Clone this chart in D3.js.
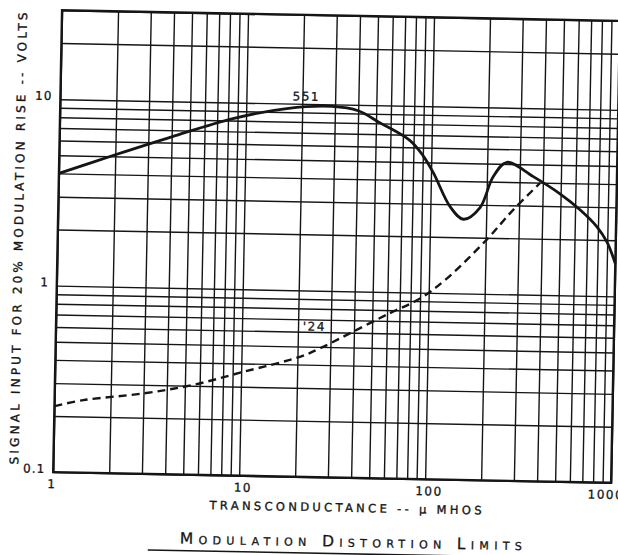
<!DOCTYPE html>
<html><head><meta charset="utf-8">
<script src="https://cdn.jsdelivr.net/npm/d3@7"></script>
<style>html,body{margin:0;padding:0;background:#fff;overflow:hidden}</style>
</head><body>
<svg id="c" width="618" height="555"></svg>
<script>
// ---- data ----
const xDomain = [1, 1000];
const yDomain = [0.1, 30];
const xTickValues = [1, 10, 100, 1000];
const xTickLabels = ["1", "10", "100", "1000"];
const yTickValues = [0.1, 1, 10];
const yTickLabels = ["0.1", "1", "10"];
const tube551X = [1, 2, 4, 8.5, 16.5, 29, 40, 52, 76, 90, 103, 128, 151, 185, 216, 255, 355, 496, 640, 790, 895, 1000];
const tube551Y = [4.0, 5.1, 6.45, 8.2, 9.4, 9.75, 9.3, 8.1, 6.55, 5.45, 4.4, 2.9, 2.5, 2.9, 4.25, 5.1, 4.3, 3.5, 2.88, 2.35, 1.96, 1.5];
const tube24X = [1, 1.43, 3, 5.5, 10.3, 20.6, 26.4, 38, 62, 90, 125, 202, 279, 386];
const tube24Y = [0.226, 0.245, 0.27, 0.303, 0.361, 0.44, 0.491, 0.595, 0.77, 0.93, 1.2, 1.95, 2.84, 3.97];
const seriesLabels = ["551", "'24"];
const xTitle = "TRANSCONDUCTANCE -- \u03BC MHOS";
const yTitle = "SIGNAL INPUT FOR 20% MODULATION RISE -- VOLTS";
const caption = "Modulation Distortion Limits";

// ---- drawing ----
const W = 618, H = 555;
const L = 57, R = 615, T = 15, B = 477;
const ink = "#151515";
const font = "'DejaVu Sans', sans-serif";

const svg = d3.select("#c");
svg.append("rect").attr("width", W).attr("height", H).attr("fill", "#fff");
const g = svg.append("g").attr("transform", "rotate(1.1,309,277)");

const x = d3.scaleLog().domain(xDomain).range([L, R]);
const y = d3.scaleLog().domain(yDomain).range([B, T]);

// grid via axes
const gx = g.append("g").attr("transform", `translate(0,${B})`)
  .call(d3.axisBottom(x).tickSize(-(B - T)).tickFormat(""));
const gy = g.append("g").attr("transform", `translate(${L},0)`)
  .call(d3.axisLeft(y).tickSize(-(R - L)).tickFormat(""));
[gx, gy].forEach(a => {
  a.select(".domain").remove();
  a.selectAll("line").attr("stroke", ink).attr("stroke-width", 1.4);
});

// frame
g.append("rect").attr("x", L).attr("y", T).attr("width", R - L).attr("height", B - T)
  .attr("fill", "none").attr("stroke", ink).attr("stroke-width", 2.4);

// curves
const line = d3.line().x(d => x(d[0])).y(d => y(d[1])).curve(d3.curveCatmullRom.alpha(0.5));
g.append("path").datum(tube551X.map((v, i) => [v, tube551Y[i]]))
  .attr("d", line).attr("fill", "none").attr("stroke", ink).attr("stroke-width", 2.8)
  .attr("stroke-linejoin", "round");
g.append("path").datum(tube24X.map((v, i) => [v, tube24Y[i]]))
  .attr("d", line).attr("fill", "none").attr("stroke", ink).attr("stroke-width", 2.4)
  .attr("stroke-dasharray", "8,5");

// series labels
const lbl = (t) => t.attr("font-family", font).attr("font-size", 12).attr("letter-spacing", 1.5)
  .attr("text-anchor", "middle").attr("fill", ink).attr("stroke", ink).attr("stroke-width", 0.3);
lbl(g.append("text").attr("x", x(21)).attr("y", y(10.4)).text(seriesLabels[0]));
lbl(g.append("text").attr("x", x(24.5)).attr("y", y(0.61)).text(seriesLabels[1]));

// tick labels
g.selectAll(".xl").data(xTickValues).enter().append("text")
  .attr("x", (d, i) => x(d) + (i === 0 ? -1 : i === 3 ? -5 : 4))
  .attr("y", B + 16).text((d, i) => xTickLabels[i])
  .attr("font-family", font).attr("font-size", 12).attr("letter-spacing", 1.5)
  .attr("text-anchor", "middle").attr("fill", ink).attr("stroke", ink).attr("stroke-width", 0.3);
g.selectAll(".yl").data(yTickValues).enter().append("text")
  .attr("x", L - 8).attr("y", d => y(d) + 1).text((d, i) => yTickLabels[i])
  .attr("font-family", font).attr("font-size", 12).attr("letter-spacing", 1)
  .attr("text-anchor", "end").attr("fill", ink).attr("stroke", ink).attr("stroke-width", 0.3);

// titles
g.append("text").attr("x", 350).attr("y", 511).text(xTitle)
  .attr("font-family", font).attr("font-size", 11.5).attr("text-anchor", "middle")
  .attr("textLength", 272).attr("lengthAdjust", "spacing").attr("fill", ink)
  .attr("stroke", ink).attr("stroke-width", 0.35);
g.append("text").attr("transform", "translate(22,244) rotate(-90)").text(yTitle)
  .attr("font-family", font).attr("font-size", 12).attr("text-anchor", "middle")
  .attr("textLength", 452).attr("lengthAdjust", "spacing").attr("fill", ink)
  .attr("stroke", ink).attr("stroke-width", 0.35);
g.append("text").attr("x", 356).attr("y", 546).text(caption)
  .attr("font-family", font).attr("font-size", 15.5).attr("font-variant", "small-caps")
  .attr("text-anchor", "middle").attr("textLength", 342).attr("lengthAdjust", "spacing")
  .attr("fill", ink).attr("stroke", ink).attr("stroke-width", 0.3);
g.append("line").attr("x1", 153).attr("x2", 560).attr("y1", 553).attr("y2", 553)
  .attr("stroke", ink).attr("stroke-width", 1.6);
</script>
</body></html>
